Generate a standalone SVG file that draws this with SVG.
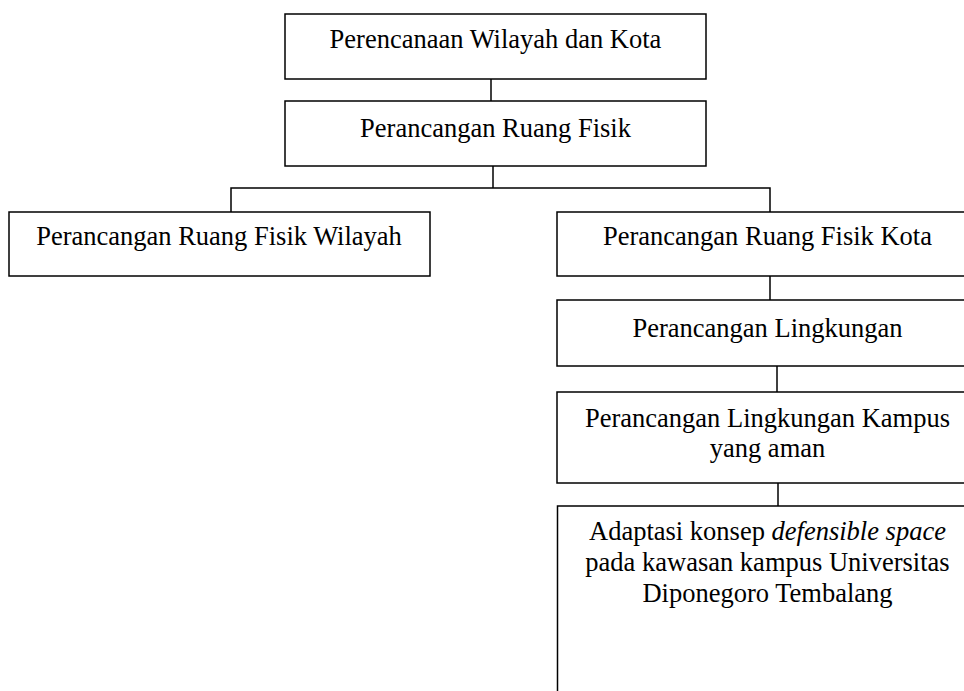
<svg xmlns="http://www.w3.org/2000/svg" width="964" height="691" viewBox="0 0 964 691">
<style>
.box{fill:#fff;stroke:#000;stroke-width:1.5}
.ln{stroke:#000;stroke-width:1.5;fill:none}
text{font-family:"Liberation Serif","Times New Roman",serif;font-size:26.5px;fill:#000;text-anchor:middle}
</style>
<rect width="964" height="691" fill="#fff"/>
<g id="connectors">
<line class="ln" x1="491" y1="79" x2="491" y2="101"/>
<line class="ln" x1="493" y1="166" x2="493" y2="188"/>
<polyline class="ln" points="231,212 231,188 770,188 770,212"/>
<line class="ln" x1="770" y1="276" x2="770" y2="300"/>
<line class="ln" x1="777" y1="366" x2="777" y2="392"/>
<line class="ln" x1="778" y1="483" x2="778" y2="506"/>
</g>
<g id="n1"><rect class="box" x="285" y="14" width="421" height="65"/><text x="495.5" y="48">Perencanaan Wilayah dan Kota</text></g>
<g id="n2"><rect class="box" x="285" y="101" width="421" height="65"/><text x="495.5" y="137">Perancangan Ruang Fisik</text></g>
<g id="n3"><rect class="box" x="9" y="212" width="421" height="64"/><text x="219" y="245">Perancangan Ruang Fisik Wilayah</text></g>
<g id="n4"><rect class="box" x="557" y="212" width="421" height="64"/><text x="767.5" y="245">Perancangan Ruang Fisik Kota</text></g>
<g id="n5"><rect class="box" x="557" y="300" width="421" height="66"/><text x="767.5" y="337">Perancangan Lingkungan</text></g>
<g id="n6"><rect class="box" x="557" y="392" width="421" height="91"/><text x="767.5" y="427">Perancangan Lingkungan Kampus</text><text x="767.5" y="457">yang aman</text></g>
<g id="n7"><rect class="box" x="557.5" y="506" width="421" height="200"/><text x="767.5" y="540">Adaptasi konsep <tspan font-style="italic">defensible space</tspan></text><text x="767.5" y="571">pada kawasan kampus Universitas</text><text x="767.5" y="602">Diponegoro Tembalang</text></g>
</svg>
